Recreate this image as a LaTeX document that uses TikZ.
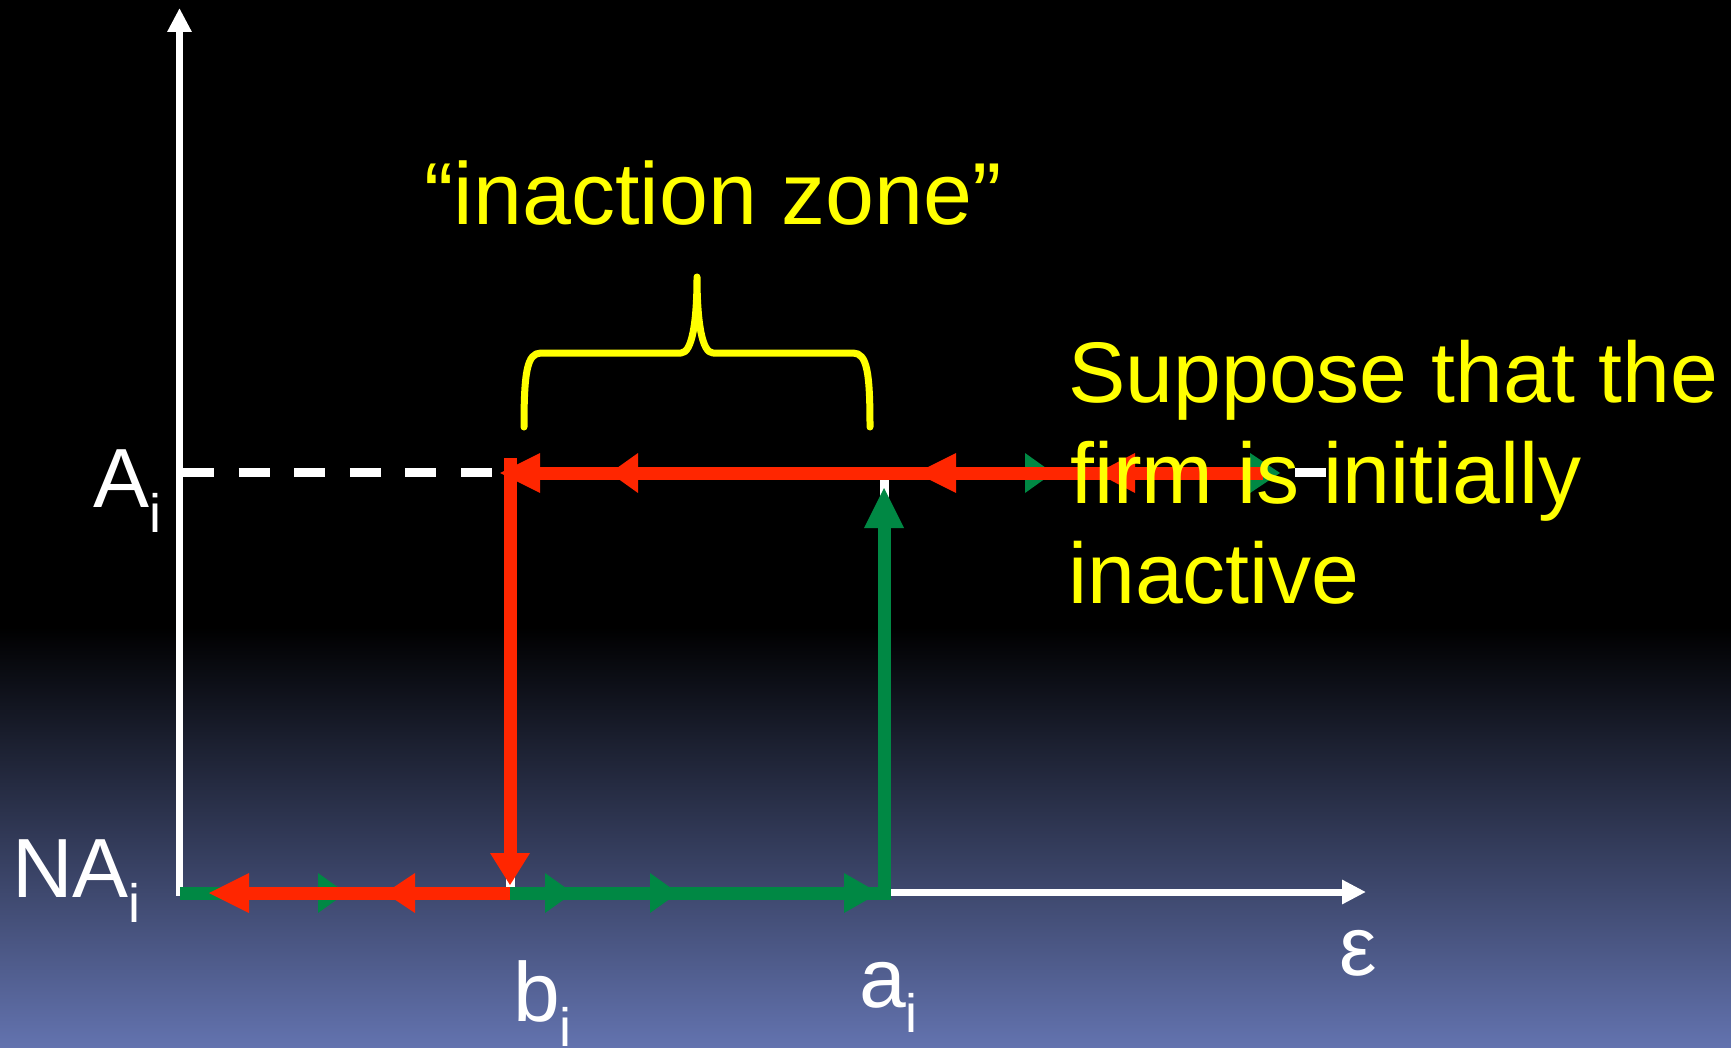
\documentclass[tikz,border=0pt]{standalone}
\usepackage{fontspec}
\setmainfont{Liberation Sans}
\usetikzlibrary{arrows.meta}
\definecolor{rd}{RGB}{255,38,0}
\definecolor{gr}{RGB}{0,136,68}
\definecolor{yl}{RGB}{255,255,0}
\definecolor{bgb}{RGB}{99,115,175}
\newcommand\arwR[4]{\fill[#1] (#2,#3) -- ++(-#4,-20) -- ++(0,40) -- cycle;}
\newcommand\arwL[4]{\fill[#1] (#2,#3) -- ++(#4,-20) -- ++(0,40) -- cycle;}
\newcommand\arwU[4]{\fill[#1] (#2,#3) -- ++(-20,#4) -- ++(40,0) -- cycle;}
\newcommand\arwD[4]{\fill[#1] (#2,#3) -- ++(-20,-#4) -- ++(40,0) -- cycle;}
\newcommand\lowi{\raisebox{-25pt}{\fontsize{54}{60}\selectfont i}}
\begin{document}
\begin{tikzpicture}[x=1pt,y=-1pt,
  axis/.style={white,line width=7pt,-{Triangle[length=24pt,width=23pt]}},
  thick line/.style={line width=13pt},
  lab/.style={text=white,font=\fontsize{84}{100}\selectfont,inner sep=0pt,anchor=base west},
  ylab/.style={text=yl,font=\fontsize{86}{100}\selectfont,inner sep=0pt,anchor=base west}]
% background
\useasboundingbox (0,0) rectangle (1731,1048);
\fill[black] (0,0) rectangle (1731,628);
\shade[top color=black,bottom color=bgb] (0,627) rectangle (1731,1048);
% key points
\coordinate (O) at (179.5,892);
\coordinate (ytop) at (179.5,8);
\coordinate (xend) at (1366,892);
\coordinate (Adash0) at (183,472.5);
\coordinate (Adash1) at (1327,472.5);
\coordinate (bA) at (510,473);
\coordinate (aA) at (884,473);
\coordinate (b0) at (510,893);
\coordinate (a0) at (884,893);
% white guides
\draw[white,line width=9pt,dash pattern=on 31pt off 24.6pt] (Adash0) -- (Adash1);
\draw[white,line width=9pt] (aA) -- (a0);
\draw[white,line width=9pt] (bA) -- (b0);
% axes
\draw[axis] (179.5,894) -- (ytop);
\draw[axis] (176,892) -- (xend);
% green path
\draw[gr,thick line] (180,893) -- (a0) -- (884,526);
\arwR{gr}{346}{893}{28}
\arwR{gr}{573}{893}{28}
\arwR{gr}{678}{893}{28}
\arwR{gr}{879}{893}{35}
\arwU{gr}{884}{488}{40}
\draw[gr,thick line] (aA) -- (1270,473);
\arwR{gr}{1053}{473}{28}
\arwR{gr}{1280}{473}{30}
% red path
\draw[rd,thick line] (1263,473) -- (520,473);
\arwL{rd}{500}{473}{40}
\arwL{rd}{610}{473}{28}
\arwL{rd}{916}{473}{40}
\arwL{rd}{1097}{473}{38}
\draw[rd,thick line] (510,458) -- (510,856);
\arwD{rd}{510}{885}{32}
\draw[rd,thick line] (b0) -- (235,893);
\arwL{rd}{209}{893}{40}
\arwL{rd}{385}{893}{30}
% brace
\draw[yl,line width=7pt,line cap=round,line join=round]
  (524,427) .. controls (524,372) and (527,353) .. (541,353) -- (681,353)
  .. controls (692,353) and (697,322) .. (697,277)
  .. controls (697,322) and (702,353) .. (713,353) -- (853,353)
  .. controls (867,353) and (870,372) .. (870,427);
% labels
\node[lab] (LA) at (93,507) {A\lowi};
\node[lab] (LNA) at (12,897) {NA\lowi};
\node[lab] (Lb) at (513,1021) {b\lowi};
\node[lab] (La) at (859,1007) {a\lowi};
\node[lab] (Le) at (1339,975) {ε};
\node[ylab,font=\fontsize{88}{100}\selectfont,anchor=base] (Lzone) at (713,225) {“inaction zone”};
\node[ylab] (T1) at (1068,402) {Suppose that the};
\node[ylab] (T2) at (1070,503) {firm is initially};
\node[ylab] (T3) at (1068,603) {inactive};
\end{tikzpicture}
\end{document}
